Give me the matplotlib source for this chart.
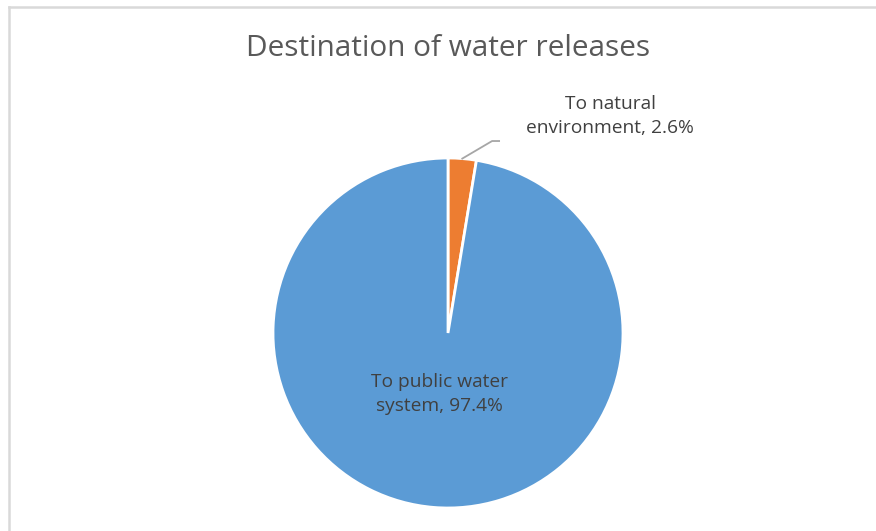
import matplotlib
matplotlib.use("Agg")
import matplotlib.pyplot as plt
import numpy as np
from matplotlib.lines import Line2D

title = "Destination of water releases"
categories = ["To natural\nenvironment", "To public water\nsystem"]
values = [2.6, 97.4]
colors = ["#ED7D31", "#5B9BD5"]

W, H = 876, 531
fig = plt.figure(figsize=(W / 100, H / 100), dpi=100)
fig.patch.set_facecolor("white")

# chart border (top and left visible)
fig.add_artist(Line2D([8.5 / W, 1.0], [1 - 6.5 / H, 1 - 6.5 / H], transform=fig.transFigure,
                      color="#D9D9D9", lw=1.8))
fig.add_artist(Line2D([9 / W, 9 / W], [0, 1 - 6.5 / H], transform=fig.transFigure,
                      color="#D9D9D9", lw=1.8))

cx, cy, r = 448, 333, 175
ax = fig.add_axes([(cx - r) / W, (H - cy - r) / H, 2 * r / W, 2 * r / H])
wedges, _ = ax.pie(values, colors=colors, startangle=90, counterclock=False,
                   radius=1.0, wedgeprops=dict(edgecolor="white", linewidth=2))
ax.set_xlim(-1, 1)
ax.set_ylim(-1, 1)
ax.axis("off")

font = "Open Sans"
fig.text(cx / W, 1 - 48 / H, title, ha="center", va="center", fontsize=21.4,
         color="#595959", family=font)

def label(i):
    return f"{categories[i]}, {values[i]}%"

# small slice label with leader line
w0 = wedges[0]
mid = np.deg2rad((w0.theta1 + w0.theta2) / 2)
sx, sy = np.cos(mid), np.sin(mid)
ax.plot([sx, 0.252, 0.292], [sy, 1.097, 1.097], color="#A6A6A6", lw=1.3, clip_on=False)
ax.text(0.926, 1.24, label(0), ha="center", va="center", fontsize=13.8,
        color="#404040", family=font, linespacing=1.45)

# large slice label
ax.text(-0.05, -0.35, label(1), ha="center", va="center", fontsize=13.8,
        color="#404040", family=font, linespacing=1.45)

fig.savefig("out.png", dpi=100)
